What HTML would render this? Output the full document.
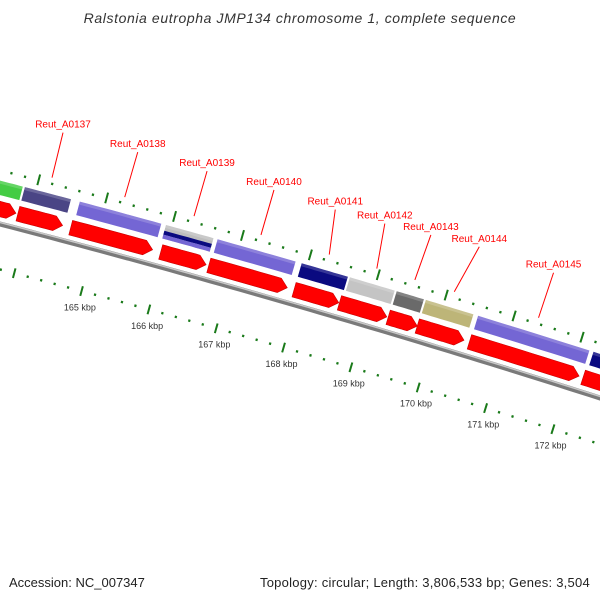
<!DOCTYPE html>
<html><head><meta charset="utf-8"><style>
body{margin:0;background:#fff}
svg{display:block;font-family:"Liberation Sans","DejaVu Sans",sans-serif}
</style></head><body>
<svg id="c" width="600" height="600" viewBox="0 0 600 600">
<text x="300" y="23" text-anchor="middle" font-size="14" letter-spacing="0.6" font-style="italic" fill="#333">Ralstonia eutropha JMP134 chromosome 1, complete sequence</text>
<text x="9" y="587" font-size="13" fill="#222">Accession: NC_007347</text>
<text x="590" y="587" text-anchor="end" font-size="13" letter-spacing="0.25" fill="#222">Topology: circular; Length: 3,806,533 bp; Genes: 3,504</text>
</svg>
<script>
const geneStarts=[163.3,163.82,164.63,165.90,166.66,167.90,168.61,169.30,169.73,170.50,172.20];
const geneEnds=[163.82,164.53,165.86,166.63,167.84,168.61,169.30,169.73,170.46,172.17,173.1];
const geneColors=['#44cc44','#4a4585','#7466d4','#bdbdbd','#7466d4','#0a0a80','#c4c4c4','#6a6a6a','#bdb578','#7466d4','#0a0a80'];
const geneLabels=['','Reut_A0137','Reut_A0138','Reut_A0139','Reut_A0140','Reut_A0141','Reut_A0142','Reut_A0143','Reut_A0144','Reut_A0145',''];
const cdsStarts=[163.4,163.82,164.60,165.93,166.64,167.90,168.57,169.29,169.72,170.49,172.17];
const cdsEnds=[163.82,164.51,165.84,166.63,167.83,168.59,169.30,169.75,170.44,172.14,173.2];
const tickStart=162, tickEnd=174;
const tickLabelsKbp=[165,166,167,168,169,170,171,172];
const leaderDx=[0,11,13,13,13,6,8,16,25,15,0];

const svg=document.getElementById('c');
const NS='http://www.w3.org/2000/svg';
function T(k){return 93+(k-165)*67.6;}
function base(t){return 224+0.26*t+5e-5*t*t;}
function P(t,o){const s=0.26+1e-4*t,n=Math.sqrt(1+s*s);return [t-o*s/n, base(t)+o/n];}
function el(tag,attrs){const e=document.createElementNS(NS,tag);for(const k in attrs)e.setAttribute(k,attrs[k]);svg.appendChild(e);return e;}
function band(t1,t2,o1,o2,arrow){
  const pts=[];const tip=arrow?Math.min(8,(t2-t1)*0.4):0;const te=t2-tip;
  for(let i=0;i<=10;i++){pts.push(P(t1+(te-t1)*i/10,o1));}
  if(arrow)pts.push(P(t2,(o1+o2)/2));
  for(let i=10;i>=0;i--){pts.push(P(t1+(te-t1)*i/10,o2));}
  return pts.map(p=>p[0].toFixed(1)+','+p[1].toFixed(1)).join(' ');
}
let bb=[];for(let t=-20;t<=640;t+=10)bb.push(P(t,0));
let l=el('polyline',{points:bb.map(p=>p.join(',')).join(' '),fill:'none',stroke:'#7a7a7a','stroke-width':5});


let bb2=[];for(let t=-20;t<=640;t+=10)bb2.push(P(t,-1.5));
l=el('polyline',{points:bb2.map(p=>p.join(',')).join(' '),fill:'none',stroke:'#c8c8c8','stroke-width':1.5});


for(let k=tickStart;k<=tickEnd+0.001;k=Math.round((k+0.2)*10)/10){
  const t=T(k);const major=Math.abs(k-Math.round(k))<0.01;
  [[-52,-57,-48],[44,40,48]].forEach(([c,a,b])=>{
    let p1,p2;
    if(major){p1=P(t,a-1);p2=P(t,b+1);}else{p1=P(t,c-1.2);p2=P(t,c+1.2);}
    const ln=el('line',{x1:p1[0],y1:p1[1],x2:p2[0],y2:p2[1],stroke:'#1a7a1a','stroke-width':major?2:2.2});
    
    
  });
}
tickLabelsKbp.forEach(k=>{
  const p=P(T(k),62);
  const tx=el('text',{x:p[0]+3,y:p[1]+2,'text-anchor':'middle','font-size':9,fill:'#333'});
  tx.textContent=k+' kbp';
  
  
});
cdsStarts.forEach((s,i)=>{
  const pg=el('polygon',{points:band(T(s)+1,T(cdsEnds[i])-1,-22,-7,true),fill:'#f00',stroke:'#c00','stroke-width':0.6});
  
  
});
geneStarts.forEach((s,i)=>{
  const t1=T(s)+1,t2=T(geneEnds[i])-1;
  const pg=el('polygon',{points:band(t1,t2,-42,-28,false),fill:geneColors[i]});
  
  
  if(i===3){
    const s2=el('polygon',{points:band(t1,t2,-36,-32,false),fill:'#0a0a80'});
    
    
    const s3=el('polygon',{points:band(t1,t2,-32,-28,false),fill:'#7466d4'});
    
    
  }
  const hl=el('polygon',{points:band(t1,t2,-42,-39,false),fill:'#fff',opacity:0.18});
  
  
  if(geneLabels[i]){
    const tm=(T(s)+T(geneEnds[i]))/2;
    const a=P(tm,-58);const b=[a[0]+leaderDx[i],a[1]-45];
    const ln=el('line',{x1:a[0],y1:a[1],x2:b[0],y2:b[1],stroke:'#f00','stroke-width':1});
    
    
    const tx=el('text',{x:b[0],y:b[1]-5,'text-anchor':'middle','font-size':10,fill:'#f00'});
    tx.textContent=geneLabels[i];
    
    
  }
});
</script>
</body></html>
